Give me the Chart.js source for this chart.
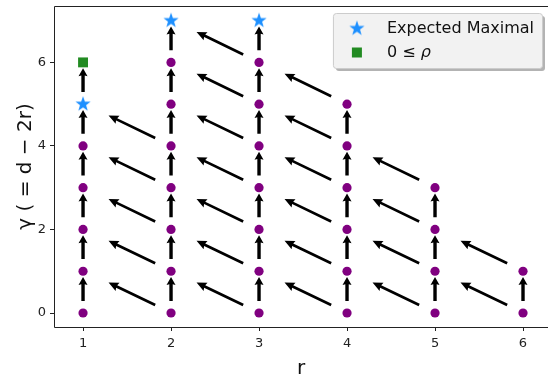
<!DOCTYPE html>
<html>
<head>
<meta charset="utf-8">
<script src="https://cdn.jsdelivr.net/npm/chart.js@4.4.1/dist/chart.umd.min.js"></script>
<style>
  html, body { margin: 0; padding: 0; background: #fff; }
</style>
</head>
<body>
<canvas id="myChart" width="548" height="376"></canvas>
<script>
// purple points (r, gamma)
var dotR = [1,1,1,1,1, 2,2,2,2,2,2,2, 3,3,3,3,3,3,3, 4,4,4,4,4,4, 5,5,5,5, 6,6];
var dotG = [0,1,2,3,4, 0,1,2,3,4,5,6, 0,1,2,3,4,5,6, 0,1,2,3,4,5, 0,1,2,3, 0,1];

// expected maximal (stars) and 0 <= rho (square)
var starR = [1, 2, 3];
var starG = [5, 7, 7];
var squareR = [1];
var squareG = [6];

// vertical arrows: (r, g) -> (r, g+1)
var upR = [1,1,1,1,1,1, 2,2,2,2,2,2,2, 3,3,3,3,3,3,3, 4,4,4,4,4, 5,5,5, 6];
var upG = [0,1,2,3,4,5, 0,1,2,3,4,5,6, 0,1,2,3,4,5,6, 0,1,2,3,4, 0,1,2, 0];

// diagonal arrows: (r, g) -> (r-1, g+1)
var diagR = [2,2,2,2,2, 3,3,3,3,3,3,3, 4,4,4,4,4,4, 5,5,5,5, 6,6];
var diagG = [0,1,2,3,4, 0,1,2,3,4,5,6, 0,1,2,3,4,5, 0,1,2,3, 0,1];

var xTicks = [1, 2, 3, 4, 5, 6];
var yTicks = [0, 2, 4, 6];

function toPoints(xs, ys) {
    return xs.map(function (x, i) { return { x: x, y: ys[i] }; });
}

// filled five point star for the marker
function makeStar(r, color) {
    var s = Math.ceil(r * 2 + 2);
    var c = document.createElement('canvas');
    c.width = s; c.height = s;
    var g = c.getContext('2d');
    g.fillStyle = color;
    g.beginPath();
    for (var i = 0; i < 10; i++) {
        var rad = i % 2 === 0 ? r : r * 0.4;
        var a = -Math.PI / 2 + i * Math.PI / 5;
        var px = s / 2 + rad * Math.cos(a), py = s / 2 + rad * Math.sin(a);
        if (i === 0) g.moveTo(px, py); else g.lineTo(px, py);
    }
    g.closePath();
    g.fill();
    return c;
}
var starImg = makeStar(8, '#1e90ff');

function drawArrow(ctx, x0, y0, x1, y1, sw, hw, hl) {
    var dx = x1 - x0, dy = y1 - y0, len = Math.hypot(dx, dy);
    var ux = dx / len, uy = dy / len, nx = -uy, ny = ux;
    var bx = x1 - ux * hl, by = y1 - uy * hl;
    var nb = hl * 0.1;
    ctx.beginPath();
    ctx.moveTo(x0 + nx * sw / 2, y0 + ny * sw / 2);
    ctx.lineTo(bx + ux * nb + nx * sw / 2, by + uy * nb + ny * sw / 2);
    ctx.lineTo(bx + nx * hw / 2, by + ny * hw / 2);
    ctx.lineTo(x1, y1);
    ctx.lineTo(bx - nx * hw / 2, by - ny * hw / 2);
    ctx.lineTo(bx + ux * nb - nx * sw / 2, by + uy * nb - ny * sw / 2);
    ctx.lineTo(x0 - nx * sw / 2, y0 - ny * sw / 2);
    ctx.closePath();
    ctx.fill();
}

var arrowPlugin = {
    id: 'arrows',
    beforeDatasetsDraw: function (chart) {
        var ctx = chart.ctx, xs = chart.scales.x, ys = chart.scales.y;
        var ca = chart.chartArea;
        ctx.save();
        // frame (right spine is cropped in the original)
        ctx.strokeStyle = '#222';
        ctx.lineWidth = 1;
        ctx.beginPath();
        ctx.moveTo(ca.right + 2, ca.top + 0.5);
        ctx.lineTo(ca.left + 0.5, ca.top + 0.5);
        ctx.lineTo(ca.left + 0.5, ca.bottom + 0.5);
        ctx.lineTo(ca.right + 2, ca.bottom + 0.5);
        ctx.stroke();

        ctx.fillStyle = '#000';
        upR.forEach(function (r, i) {
            var g = upG[i];
            drawArrow(ctx,
                xs.getPixelForValue(r), ys.getPixelForValue(g + 0.29),
                xs.getPixelForValue(r), ys.getPixelForValue(g + 0.86),
                3.4, 9, 8);
        });
        diagR.forEach(function (r, i) {
            var g = diagG[i];
            drawArrow(ctx,
                xs.getPixelForValue(r - 0.18), ys.getPixelForValue(g + 0.19),
                xs.getPixelForValue(r - 0.71), ys.getPixelForValue(g + 0.73),
                2.7, 9, 10);
        });
        ctx.restore();
    }
};

var legendPlugin = {
    id: 'boxLegend',
    afterDraw: function (chart) {
        var ctx = chart.ctx, ca = chart.chartArea;
        ctx.save();
        ctx.font = '16px "DejaVu Sans"';
        var tw = ctx.measureText('Expected Maximal').width;
        var w = tw + 62, h = 55;
        var left = ca.right - 6 - w, top = ca.top + 7;
        // shadow
        ctx.fillStyle = '#b3b3b3';
        ctx.beginPath();
        ctx.roundRect(left + 3, top + 3, w, h, 3);
        ctx.fill();
        ctx.fillStyle = '#f2f2f2';
        ctx.strokeStyle = '#cccccc';
        ctx.lineWidth = 1;
        ctx.beginPath();
        ctx.roundRect(left + 0.5, top + 0.5, w, h, 3);
        ctx.fill();
        ctx.stroke();

        var mx = left + 24, tx = left + 54;
        var y1 = top + 15.5, y2 = top + 39.5;
        ctx.drawImage(starImg, mx - starImg.width / 2, y1 - starImg.height / 2);
        ctx.fillStyle = '#228b22';
        ctx.fillRect(mx - 5, y2 - 5, 10, 10);

        ctx.fillStyle = '#111';
        ctx.textBaseline = 'middle';
        ctx.textAlign = 'left';
        ctx.fillText('Expected Maximal', tx, y1);
        var part = '0 \u2264 ';
        ctx.fillText(part, tx, y2);
        var pw = ctx.measureText(part).width;
        ctx.font = 'italic 16px "DejaVu Sans"';
        ctx.fillText('\u03c1', tx + pw, y2);
        ctx.restore();
    }
};

var ctx = document.getElementById('myChart').getContext('2d');

var myChart = new Chart(ctx, {
    type: 'scatter',
    data: {
        datasets: [{
            label: 'points',
            data: toPoints(dotR, dotG),
            backgroundColor: '#800080',
            borderWidth: 0,
            pointRadius: 4.6
        }, {
            label: 'Expected Maximal',
            data: toPoints(starR, starG),
            pointStyle: starImg
        }, {
            label: '0 \u2264 \u03c1',
            data: toPoints(squareR, squareG),
            pointStyle: 'rect',
            backgroundColor: '#228b22',
            borderWidth: 0,
            pointRadius: 7
        }]
    },
    options: {
        responsive: false,
        animation: false,
        devicePixelRatio: 1,
        layout: { autoPadding: false, padding: { top: 6, right: 0, left: 0, bottom: 0 } },
        plugins: {
            legend: { display: false },
            tooltip: { enabled: false }
        },
        scales: {
            x: {
                type: 'linear',
                min: 0.67,
                max: 6.284,
                afterFit: function (s) { s.height = 49; s.paddingLeft = 0; s.paddingRight = 0; },
                afterBuildTicks: function (s) { s.ticks = xTicks.map(function (v) { return { value: v }; }); },
                grid: { drawOnChartArea: false, tickLength: 4, tickColor: '#222' },
                border: { display: false },
                ticks: { padding: 5, color: '#222', font: { family: 'DejaVu Sans', size: 13 } },
                title: {
                    display: true, text: 'r', color: '#111',
                    font: { family: 'DejaVu Sans', size: 20, lineHeight: 0.7 },
                    padding: { top: 0, bottom: 0 }
                }
            },
            y: {
                type: 'linear',
                min: -0.335,
                max: 7.35,
                afterFit: function (s) { s.width = 54; s.paddingTop = 0; s.paddingBottom = 0; },
                afterBuildTicks: function (s) { s.ticks = yTicks.map(function (v) { return { value: v }; }); },
                grid: { drawOnChartArea: false, tickLength: 4, tickColor: '#222' },
                border: { display: false },
                ticks: { padding: 4, color: '#222', font: { family: 'DejaVu Sans', size: 13 } },
                title: {
                    display: true, text: '\u03b3 ( = d \u2212 2r)', color: '#111',
                    font: { family: 'DejaVu Sans', size: 20, lineHeight: 1.2 },
                    padding: { top: 14, bottom: 0 }
                }
            }
        }
    },
    plugins: [arrowPlugin, legendPlugin]
});
</script>
</body>
</html>
